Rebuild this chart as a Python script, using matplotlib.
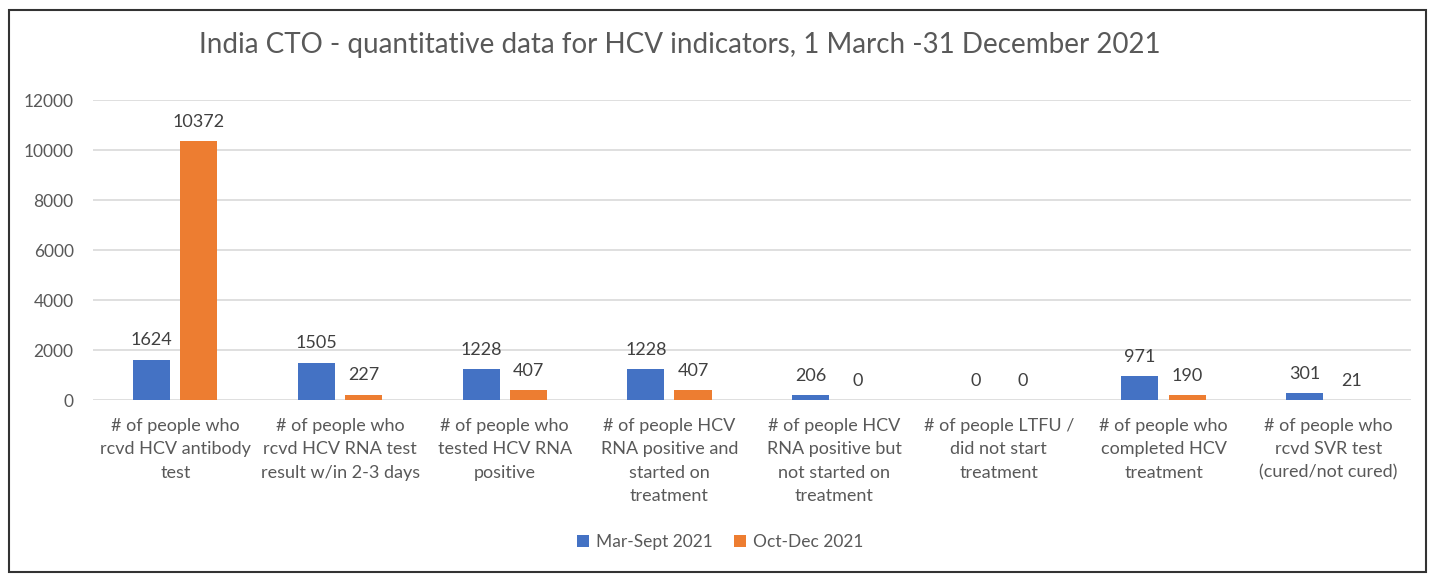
import matplotlib.pyplot as plt
import numpy as np
from matplotlib.patches import Rectangle

plt.rcParams['font.family'] = ['Lato', 'DejaVu Sans']

categories = [
    "# of people who\nrcvd HCV antibody\ntest",
    "# of people who\nrcvd HCV RNA test\nresult w/in 2-3 days",
    "# of people who\ntested HCV RNA\npositive",
    "# of people HCV\nRNA positive and\nstarted on\ntreatment",
    "# of people HCV\nRNA positive but\nnot started on\ntreatment",
    "# of people LTFU /\ndid not start\ntreatment",
    "# of people who\ncompleted HCV\ntreatment",
    "# of people who\nrcvd SVR test\n(cured/not cured)",
]
mar_sept = [1624, 1505, 1228, 1228, 206, 0, 971, 301]
oct_dec = [10372, 227, 407, 407, 0, 0, 190, 21]
series_names = ["Mar-Sept 2021", "Oct-Dec 2021"]

blue = '#4472C4'
orange = '#ED7D31'
txt = '#595959'

fig = plt.figure(figsize=(14.32, 5.75), dpi=100)
ax = fig.add_axes([0.065, 0.304, 0.92, 0.522])

x = np.arange(len(categories))
w = 0.225
b1 = ax.bar(x - 0.143, mar_sept, w, color=blue, label=series_names[0], zorder=3)
b2 = ax.bar(x + 0.143, oct_dec, w, color=orange, label=series_names[1], zorder=3)
for bars in (b1, b2):
    ax.bar_label(bars, padding=8, fontsize=13, color='#404040')

ax.set_xlim(-0.5, len(categories) - 0.5)
ax.set_ylim(0, 12000)
ax.set_yticks(range(0, 12001, 2000))
ax.set_xticks(x)
ax.set_xticklabels(categories, fontsize=13, color=txt, linespacing=1.55)
ax.tick_params(axis='y', labelsize=12.5, labelcolor=txt, length=0, pad=14)
ax.tick_params(axis='x', length=0, pad=13)
ax.grid(axis='y', color='#d9d9d9', lw=1.2, zorder=0)
for s in ax.spines.values():
    s.set_visible(False)

fig.text(0.475, 0.922, "India CTO - quantitative data for HCV indicators, 1 March -31 December 2021",
         ha='center', va='center', fontsize=20, color=txt)

fig.legend(loc='center', bbox_to_anchor=(0.503, 0.057), ncol=2, frameon=False,
           fontsize=12.5, labelcolor=txt, handlelength=0.7, handleheight=0.7,
           columnspacing=1.2, handletextpad=0.4)

fig.patches.append(Rectangle((0.006, 0.005), 0.99, 0.978, transform=fig.transFigure,
                             fill=False, edgecolor='#333333', lw=1.5))

fig.savefig('out.png', dpi=100)
